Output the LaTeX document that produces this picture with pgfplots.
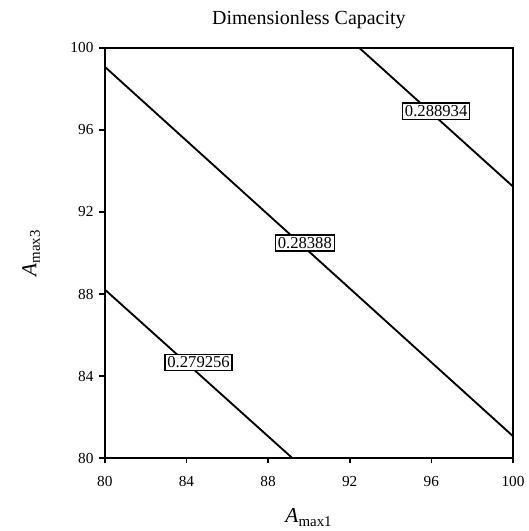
\documentclass[border=0pt]{standalone}
\usepackage{fontspec}
\setmainfont{Liberation Serif}
\usepackage{pgfplots}
\pgfplotsset{compat=1.18}

\begin{document}
\begin{tikzpicture}
\begin{axis}[
    name=main,
    at={(0,0)}, anchor=south west,
    scale only axis,
    width=306.75pt, height=308.25pt,
    xmin=80, xmax=100, ymin=80, ymax=100,
    xtick={80,84,...,100}, ytick={80,84,...,100},
    tick align=outside, xtick pos=bottom, ytick pos=left,
    major tick length=4pt,
    axis line style={line width=1.3pt},
    every tick/.style={black, line width=1.3pt},
    /pgf/number format/assume math mode=true,
    ticklabel style={font=\fontsize{11.5}{13}\selectfont},
    xticklabel style={yshift=-6pt},
    yticklabel style={xshift=-1pt},
    title={Dimensionless Capacity},
    title style={font=\fontsize{15}{17}\selectfont, yshift=4.5pt},
    xlabel={\textit{A}\textsubscript{max1}},
    ylabel={\textit{A}\textsubscript{max3}},
    xlabel style={font=\fontsize{16}{18}\selectfont, yshift=-10pt},
    ylabel style={font=\fontsize{16}{18}\selectfont, yshift=16pt},
    clip=false,
]
\addplot[black, line width=1.4pt] coordinates {(80,88.22) (89.19,80)}
    node[pos=0.5, draw, fill=white, line width=1.1pt, inner sep=1.8pt, font=\fontsize{12.5}{14}\selectfont, yshift=8.5pt] {0.279256};
\addplot[black, line width=1.4pt] coordinates {(80,99.08) (100,81.07)}
    node[pos=0.49, draw, fill=white, line width=1.1pt, inner sep=1.8pt, font=\fontsize{12.5}{14}\selectfont, yshift=3.5pt] {0.28388};
\addplot[black, line width=1.4pt] coordinates {(92.47,100) (100,93.24)}
    node[pos=0.5, draw, fill=white, line width=1.1pt, inner sep=1.8pt, font=\fontsize{12.5}{14}\selectfont, yshift=4.5pt] {0.288934};
\end{axis}
\path[use as bounding box] (-78.75pt,-54pt) rectangle (316.5pt,344.25pt);
\end{tikzpicture}
\end{document}
